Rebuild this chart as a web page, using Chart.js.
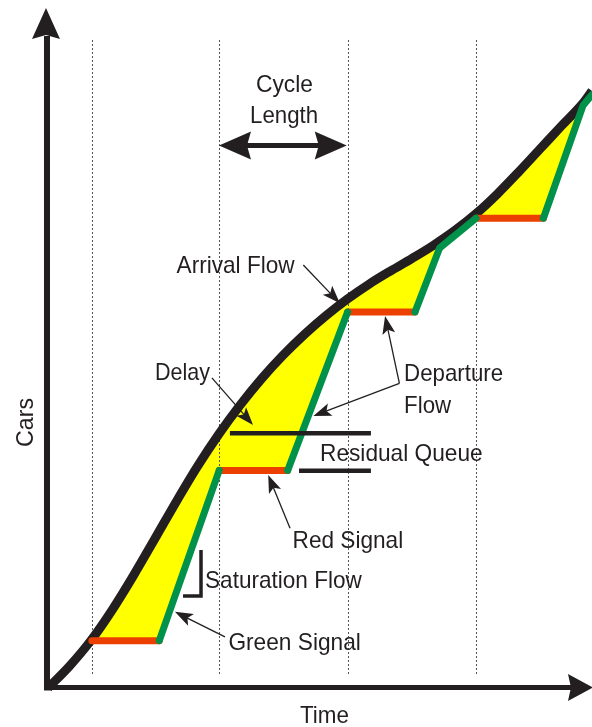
<!DOCTYPE html>
<html><head><meta charset="utf-8">
<script src="https://cdn.jsdelivr.net/npm/chart.js@4.4.1/dist/chart.umd.min.js"></script>
<style>html,body{margin:0;padding:0;background:#fff;overflow:hidden}canvas{display:block}</style>
</head><body>
<canvas id="c" width="592" height="727"></canvas>
<script>
// ---- data (time in s, cumulative cars) ----
const arrivalTime = [0,10,20,30,40,50,60,70,80,90,100,110,120,130,140,150,160,170,180,190,200,210,220,230,240,250,254.2];
const arrivalCars = [0,6.8,14.8,24.4,35.2,46.7,58.3,69.4,79.5,88.6,96.8,104.1,110.6,116.4,121.6,126.2,130.3,134.2,138.3,142.9,148.2,154.4,161.3,168.5,175.7,182.8,186.6];
const departureTime = [20.5,52,80,112,140,171.5,183,200,231.5,250,254.2];
const departureCars = [14.8,14.8,68,68,117.5,117.5,137.5,146.8,146.8,182.0,185.4];
const cycleBounds = [20.5,80,140,200];
const labelTexts = ['Cycle','Length','Arrival Flow','Delay','Departure','Flow','Residual Queue','Red Signal','Saturation Flow','Green Signal','Time','Cars'];

// ---- build series ----
const pts = (ts, cs) => ts.map((t,i)=>({x:t,y:cs[i]}));
const arrPts = pts(arrivalTime, arrivalCars);
const depPts = pts(departureTime, departureCars);
const redPts = [], greenPts = [];
for (let i=0;i<depPts.length-1;i++){
  const a=depPts[i], b=depPts[i+1];
  const tgt = a.y===b.y ? redPts : greenPts;
  const last = tgt[tgt.length-1];
  if (last && last.x===a.x && last.y===a.y) tgt.push(b);
  else { if (last) tgt.push({x:(last.x+a.x)/2,y:null}); tgt.push(a,b); }
}

const INK = '#231F20';
const FONT = '24px "Liberation Sans", Arial, sans-serif';

// layout of annotations (data units)
const L = {
  texts: [
    ['Cycle',110.5,186.3,57,'center'],
    ['Length',110.3,176.7,68,'center'],
    ['Arrival Flow',60.1,129.8,118,'left'],
    ['Delay',50,96.25,55,'left'],
    ['Departure',166.4,96.0,99,'left'],
    ['Flow',166.4,85.8,47,'left'],
    ['Residual Queue',127.1,71.0,162.7,'left'],
    ['Red Signal',114.3,43.7,110.6,'left'],
    ['Saturation Flow',73.4,31.2,156.7,'left'],
    ['Green Signal',84.3,11.9,132.4,'left'],
    ['Time',129.2,-11.0,49,'center']
  ],
  cars: [-6.9,83.0,49],
  thin: [
    [[119.3,132.2],[136.4,120.2]],
    [[76.6,96.9],[95.8,82.2]],
    [[164.2,95.2],[157.5,116.25]],
    [[164.2,95.2],[124,85]],
    [[113.1,49.9],[102.9,66.6]],
    [[82.7,16.0],[59.3,23.8]]
  ],
  bars: [[85.0,150.9,79.6],[117.3,150.9,67.9]],
  bracket: {t:71.5, c0:43.1, c1:28.75, t0:63.1},
  cycleArrow: {t0:79.9, t1:139.6, c:169.5},
  yAxisT: -0.47, xAxisC: 0.16
};

function head(ctx, tx, ty, fx, fy, len, hw, notch){
  const dx=tx-fx, dy=ty-fy, d=Math.hypot(dx,dy), ux=dx/d, uy=dy/d, px=-uy, py=ux;
  const bx=tx-ux*len, by=ty-uy*len;
  ctx.beginPath();
  ctx.moveTo(tx,ty);
  ctx.lineTo(bx+px*hw, by+py*hw);
  ctx.lineTo(bx+ux*notch, by+uy*notch);
  ctx.lineTo(bx-px*hw, by-py*hw);
  ctx.closePath(); ctx.fill();
}

const annot = {
  id:'annot',
  afterDatasetDraw(chart, args){
    if (args.index !== 3) return;
    const {ctx, scales:{x,y}} = chart;
    ctx.save(); ctx.strokeStyle='#555'; ctx.lineWidth=1; ctx.setLineDash([2,2]);
    cycleBounds.forEach(t=>{
      const px=Math.round(x.getPixelForValue(t))+0.5;
      ctx.beginPath(); ctx.moveTo(px,y.getPixelForValue(202.5)); ctx.lineTo(px,y.getPixelForValue(4)); ctx.stroke();
    });
    ctx.restore();
  },
  afterDraw(chart){
    const {ctx, scales:{x,y}} = chart;
    const X=v=>x.getPixelForValue(v), Y=v=>y.getPixelForValue(v);
    ctx.save();
    ctx.fillStyle=INK; ctx.strokeStyle=INK; ctx.lineCap='butt';
    // axes
    const ax=X(L.yAxisT), ay=Y(L.xAxisC);
    ctx.lineWidth=6;
    ctx.beginPath(); ctx.moveTo(ax, ay+3); ctx.lineTo(ax, 36); ctx.stroke();
    head(ctx, ax-1, 8, ax-1, 100, 31, 14, 4);
    ctx.lineWidth=5;
    ctx.beginPath(); ctx.moveTo(ax-3, ay); ctx.lineTo(X(254.2)-20, ay); ctx.stroke();
    head(ctx, X(254.2)+1, ay, X(200), ay, 25, 13.5, 3);
    // cycle arrow
    const ca=L.cycleArrow, cy=Y(ca.c);
    ctx.lineWidth=5;
    ctx.beginPath(); ctx.moveTo(X(ca.t0)+25, cy); ctx.lineTo(X(ca.t1)-25, cy); ctx.stroke();
    head(ctx, X(ca.t0), cy, X(ca.t1), cy, 32, 14, 4);
    head(ctx, X(ca.t1), cy, X(ca.t0), cy, 32, 14, 4);
    // residual queue bars
    ctx.lineWidth=4.5;
    L.bars.forEach(([t0,t1,c])=>{ctx.beginPath(); ctx.moveTo(X(t0),Y(c)); ctx.lineTo(X(t1),Y(c)); ctx.stroke();});
    // saturation bracket
    const b=L.bracket; ctx.lineWidth=3.5; ctx.lineJoin='miter';
    ctx.beginPath(); ctx.moveTo(X(b.t),Y(b.c0)); ctx.lineTo(X(b.t),Y(b.c1)); ctx.lineTo(X(b.t0),Y(b.c1)); ctx.stroke();
    // thin arrows
    ctx.lineWidth=1.3;
    L.thin.forEach(([[t0,c0],[t1,c1]])=>{
      const x0=X(t0),y0=Y(c0),x1=X(t1),y1=Y(c1);
      const d=Math.hypot(x1-x0,y1-y0);
      ctx.beginPath(); ctx.moveTo(x0,y0); ctx.lineTo(x1-(x1-x0)/d*10, y1-(y1-y0)/d*10); ctx.stroke();
      head(ctx, x1,y1,x0,y0, 18, 6.5, 4);
    });
    // texts
    ctx.font=FONT; ctx.textBaseline='alphabetic'; ctx.fillStyle=INK;
    L.texts.forEach(([s,t,c,w,al])=>{ ctx.textAlign=al; ctx.fillText(s, X(t), Y(c), w); });
    ctx.save(); ctx.translate(X(L.cars[0]), Y(L.cars[1])); ctx.rotate(-Math.PI/2);
    ctx.textAlign='center'; ctx.fillText(labelTexts[11],0,0,L.cars[2]); ctx.restore();
    ctx.restore();
  }
};

new Chart(document.getElementById('c'), {
  type:'line',
  data:{ datasets:[
    {label:'Green', data:greenPts, borderColor:'#00924A', borderWidth:7, borderCapStyle:'round', borderJoinStyle:'round', pointRadius:0, fill:false, spanGaps:false},
    {label:'Red', data:redPts, borderColor:'#EC4000', borderWidth:7, borderCapStyle:'round', pointRadius:0, fill:false, spanGaps:false},
    {label:'Arrival', data:arrPts, borderColor:INK, borderWidth:9, borderCapStyle:'butt', cubicInterpolationMode:'monotone', pointRadius:0, fill:false},
    {label:'Delay', data:depPts, borderWidth:0, borderColor:'rgba(0,0,0,0)', backgroundColor:'#FFFF00', pointRadius:0, fill:{target:2, above:'#FFFF00', below:'#FFFF00'}}
  ]},
  options:{
    responsive:false, animation:false, devicePixelRatio:1,
    layout:{padding:0},
    plugins:{legend:{display:false}, tooltip:{enabled:false}},
    scales:{
      x:{type:'linear', min:-48/2.14, max:(592-48)/2.14, display:false},
      y:{type:'linear', min:-39/3.2, max:688/3.2, display:false}
    }
  },
  plugins:[annot]
});
</script>
</body></html>
